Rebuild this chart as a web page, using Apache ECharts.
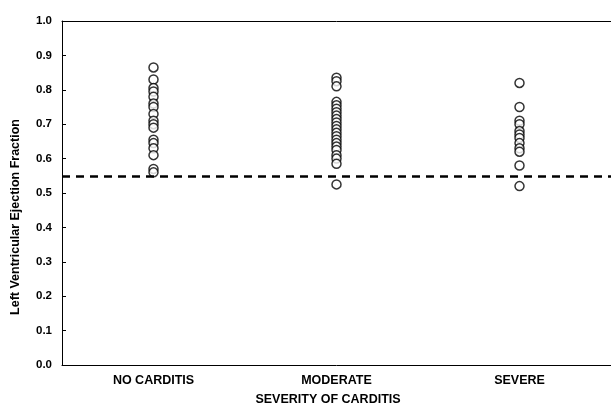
<!DOCTYPE html>
<html>
<head>
<meta charset="utf-8">
<script src="https://cdn.jsdelivr.net/npm/echarts@6/dist/echarts.min.js"></script>
<style>
  html, body { margin: 0; padding: 0; background: #fff; }
  #chart { width: 611px; height: 407px; }
</style>
</head>
<body>
<div id="chart"></div>
<script>
// Carditis severity groups along the x axis
const categories = ['NO CARDITIS', 'MODERATE', 'SEVERE'];

// Left ventricular ejection fraction, one value per patient
const noCarditis = [0.865, 0.83, 0.805, 0.795, 0.78, 0.76, 0.75, 0.73, 0.71, 0.70, 0.69,
                    0.655, 0.645, 0.63, 0.61, 0.57, 0.56];
const moderate = [0.835, 0.825, 0.81, 0.765, 0.755, 0.745, 0.735, 0.725, 0.715, 0.705,
                  0.695, 0.685, 0.675, 0.665, 0.655, 0.645, 0.635, 0.625, 0.61, 0.60,
                  0.585, 0.525];
const severe = [0.82, 0.75, 0.71, 0.70, 0.68, 0.67, 0.66, 0.645, 0.63, 0.62, 0.58, 0.52];

// Lower limit of normal ejection fraction
const normalLimit = 0.55;

const yTicks = [0, 0.1, 0.2, 0.3, 0.4, 0.5, 0.6, 0.7, 0.8, 0.9, 1.0];

const groups = [noCarditis, moderate, severe];
const points = [];
groups.forEach((vals, i) => vals.forEach(v => points.push([categories[i], v])));

const font = '"Liberation Sans", Arial, sans-serif';

const chart = echarts.init(document.getElementById('chart'));
chart.setOption({
  animation: false,
  backgroundColor: '#fff',
  grid: { left: 62, right: -2, top: 21, bottom: 42 },
  xAxis: [{
    type: 'category',
    data: categories,
    boundaryGap: true,
    axisLine: { lineStyle: { color: '#000', width: 1 } },
    axisTick: { alignWithLabel: true, length: 4, lineStyle: { color: '#000' } },
    axisLabel: { color: '#000', fontFamily: font, fontWeight: 'bold', fontSize: 12.5, margin: 9 },
    splitLine: { show: false }
  }, {
    type: 'category',
    position: 'top',
    data: categories,
    boundaryGap: true,
    axisLine: { lineStyle: { color: '#000', width: 1 } },
    axisTick: { alignWithLabel: true, inside: true, length: 3, lineStyle: { color: '#000' } },
    axisLabel: { show: false },
    splitLine: { show: false }
  }],
  yAxis: {
    type: 'value',
    min: yTicks[0],
    max: yTicks[yTicks.length - 1],
    interval: 0.1,
    axisLine: { show: true, lineStyle: { color: '#000', width: 1 } },
    axisTick: { show: true, inside: true, length: 4, lineStyle: { color: '#000' } },
    axisLabel: {
      color: '#000', fontFamily: font, fontWeight: 'bold', fontSize: 11.5, margin: 10,
      formatter: v => v.toFixed(1)
    },
    splitLine: { show: false }
  },
  graphic: [{
    type: 'text',
    x: 16, y: 217,
    rotation: Math.PI / 2,
    style: {
      text: 'Left Ventricular Ejection Fraction',
      fill: '#000', font: 'bold 12.5px ' + font,
      align: 'center', verticalAlign: 'middle'
    }
  }, {
    type: 'text',
    x: 328, y: 400,
    style: {
      text: 'SEVERITY OF CARDITIS',
      fill: '#000', font: 'bold 12.5px ' + font,
      align: 'center', verticalAlign: 'middle'
    }
  }],
  series: [{
    type: 'scatter',
    data: points,
    symbol: 'circle',
    symbolSize: 9,
    itemStyle: { color: '#fff', borderColor: '#000', borderWidth: 1.5 },
    markLine: {
      silent: true,
      symbol: 'none',
      label: { show: false },
      lineStyle: { color: '#000', width: 2.5, type: [8, 6] },
      data: [{ yAxis: normalLimit }]
    }
  }]
});
</script>
</body>
</html>
